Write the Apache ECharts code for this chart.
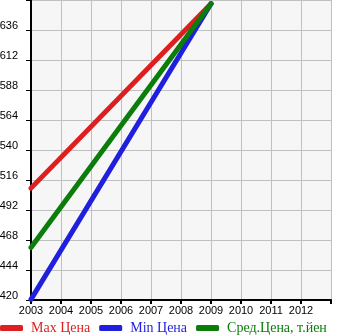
<!DOCTYPE html>
<html>
<head>
<meta charset="utf-8">
<script src="https://cdn.jsdelivr.net/npm/echarts@6/dist/echarts.min.js"></script>
<style>
html,body{margin:0;padding:0;background:#fff;}
#chart{width:345px;height:335px;}
</style>
</head>
<body>
<div id="chart"></div>
<script>
// Price history by year
const years = [2003, 2009];
const maxPrice = [509.5, 657];
const minPrice = [420.5, 657];
const avgPrice = [462, 657];
const seriesNames = ['Max Цена', 'Min Цена', 'Сред.Цена, т.йен'];
const seriesColors = ['#dd1f1f', '#1f1fdd', '#0a7d0a'];

const TICK_FONT = '"Liberation Sans", Arial, sans-serif';
const LEGEND_FONT = '"Liberation Serif", "DejaVu Serif", serif';

function pairs(vals) {
  return years.map((y, i) => [y, vals[i]]);
}

const chart = echarts.init(document.getElementById('chart'));
chart.setOption({
  animation: false,
  backgroundColor: '#ffffff',
  grid: {
    left: 31, right: 14, top: 0, bottom: 35,
    outerBoundsMode: 'none', containLabel: false,
    show: true, backgroundColor: '#f6f6f6', borderWidth: 0
  },
  legend: {
    top: 321, left: 0, padding: 0,
    itemWidth: 23, itemHeight: 6, itemGap: 9,
    textStyle: { fontFamily: LEGEND_FONT, fontSize: 14, padding: [0, 0, 0, 3] },
    data: seriesNames.map((n, i) => ({ name: n, icon: 'roundRect', textStyle: { color: seriesColors[i] } }))
  },
  xAxis: {
    type: 'value', min: 2003, max: 2013, interval: 1,
    axisLine: { show: true, onZero: false, lineStyle: { color: '#000', width: 2 } },
    axisTick: { show: true, length: 4, lineStyle: { color: '#000', width: 2 } },
    splitLine: { show: true, lineStyle: { color: '#c0c0c0', width: 1 } },
    axisLabel: {
      color: '#000', fontFamily: TICK_FONT, fontSize: 11, margin: 5,
      formatter: v => (v === 2013 ? '' : String(v))
    }
  },
  yAxis: {
    type: 'value', min: 420, max: 660, interval: 24,
    axisLine: { show: true, lineStyle: { color: '#000', width: 2 } },
    axisTick: { show: true, length: 5, lineStyle: { color: '#000', width: 1 } },
    splitLine: { show: true, lineStyle: { color: '#c0c0c0', width: 1 } },
    axisLabel: {
      color: '#000', fontFamily: TICK_FONT, fontSize: 11, margin: 13,
      verticalAlign: 'bottom', lineHeight: 8,
      formatter: v => (v === 660 ? '' : String(v))
    }
  },
  series: [maxPrice, minPrice, avgPrice].map((vals, i) => ({
    name: seriesNames[i],
    type: 'line',
    data: pairs(vals),
    symbol: 'none',
    color: seriesColors[i],
    lineStyle: { width: 5, cap: 'round', color: seriesColors[i] }
  }))
});
</script>
</body>
</html>
